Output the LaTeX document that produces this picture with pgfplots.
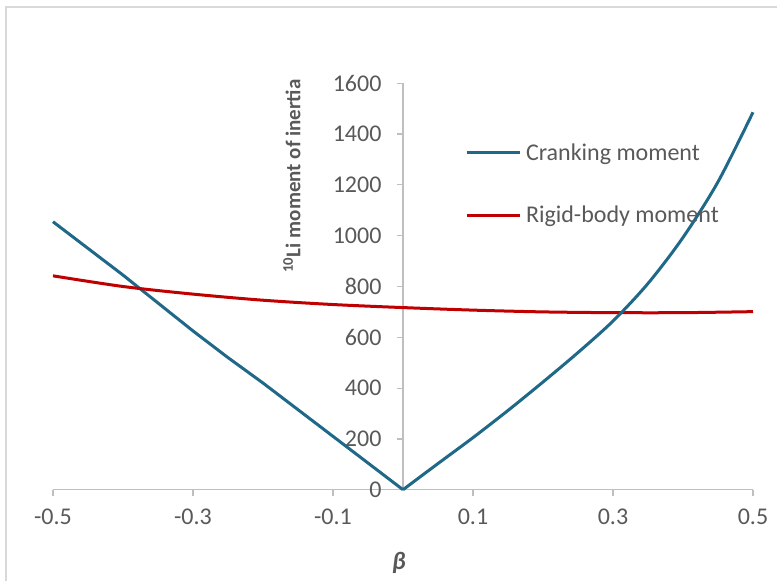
\documentclass[border=0pt]{standalone}
\usepackage{fontspec}
\setmainfont{Carlito}
\usepackage{pgfplots}
\pgfplotsset{compat=1.18}
\definecolor{crank}{HTML}{1F6888}
\definecolor{rigid}{HTML}{C00000}
\definecolor{txt}{HTML}{595959}
\definecolor{axgray}{HTML}{BFBFBF}
\definecolor{frame}{HTML}{D9D9D9}
\begin{document}
\begin{tikzpicture}
\useasboundingbox (-53pt,-91.3pt) rectangle (724pt,489.7pt);
\draw[frame, line width=2pt] (-47pt,-95pt) -- (-47pt,482.7pt) -- (730pt,482.7pt);
\begin{axis}[
  scale only axis,
  width=700pt, height=406.4pt,
  xmin=-0.5, xmax=0.5, ymin=0, ymax=1600,
  axis x line=bottom,
  axis y line=middle,
  hide obscured y ticks=false,
  hide obscured x ticks=false,
  axis line style={axgray, line width=1.2pt, -},
  tick style={axgray, line width=1.2pt},
  major tick length=6pt,
  tick align=outside,
  xtick={-0.5,-0.3,-0.1,0.1,0.3,0.5},
  ytick={0,200,...,1600},
  /pgf/number format/assume math mode=true,
  /pgf/number format/1000 sep={},
  xticklabel style={/pgf/number format/.cd, fixed, precision=1, /tikz/.cd, font=\fontsize{24}{28}\selectfont, text=txt, yshift=-10pt},
  yticklabel style={font=\fontsize{24}{28}\selectfont, text=txt, xshift=-12pt},
  every axis x label/.style={at={(rel axis cs:0.494,-0.180)}, anchor=center},
  every axis y label/.style={at={(rel axis cs:0.3414,0.7719)}, anchor=center, rotate=90},
  xlabel={\fontsize{25}{29}\selectfont\bfseries\itshape\color{txt}β},
  ylabel={\fontsize{21}{25}\selectfont\bfseries\color{txt}\textsuperscript{10}Li moment of inertia},
  legend style={draw=none, fill=none, at={(axis cs:0.084,1378)}, anchor=north west,
    font=\fontsize{24}{28}\selectfont, text=txt, row sep=40pt, column sep=3pt,
    nodes={inner sep=2pt}},
  legend cell align=left,
  legend image code/.code={\draw[#1, line width=3pt] (0pt,0pt) -- (53pt,0pt);},
  clip=false,
]
\addplot[crank, line width=3pt] coordinates {
(-0.5,1055) (-0.45,950) (-0.4,845) (-0.35,735) (-0.3,625) (-0.25,520)
(-0.2,420) (-0.15,315) (-0.1,210) (-0.05,105) (0,0)
};
\addlegendentry{Cranking moment}
\addplot[rigid, line width=3pt, smooth] coordinates {
(-0.5,842) (-0.4,800) (-0.3,770) (-0.2,746) (-0.1,729) (0,717)
(0.1,707) (0.2,700) (0.3,697) (0.4,697) (0.5,701)
};
\addlegendentry{Rigid-body moment}
\addplot[crank, line width=3pt, smooth, forget plot] coordinates {
(0,0) (0.05,103) (0.1,205) (0.15,312) (0.2,424) (0.25,540) (0.3,664)
(0.35,812) (0.4,993) (0.45,1212) (0.5,1486)
};
\end{axis}
\end{tikzpicture}
\end{document}
